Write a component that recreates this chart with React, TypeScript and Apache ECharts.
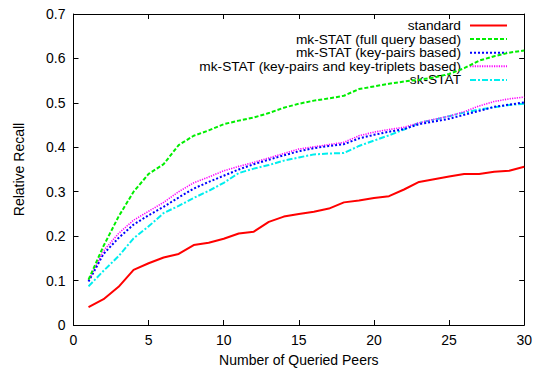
import React, { useEffect, useRef } from "react";
import * as echarts from "echarts";

const peers = [1,2,3,4,5,6,7,8,9,10,11,12,13,14,15,16,17,18,19,20,21,22,23,24,25,26,27,28,29,30];

const standard = [0.040,0.058,0.086,0.124,0.139,0.152,0.160,0.180,0.185,0.194,0.206,0.210,0.232,0.244,0.250,0.255,0.262,0.276,0.280,0.286,0.290,0.305,0.322,0.328,0.334,0.340,0.340,0.345,0.347,0.356];
const fullQuery = [0.102,0.178,0.244,0.300,0.340,0.362,0.405,0.426,0.438,0.452,0.460,0.467,0.477,0.489,0.498,0.505,0.510,0.516,0.531,0.537,0.543,0.548,0.552,0.557,0.565,0.578,0.595,0.605,0.613,0.618];
const keyPairs = [0.098,0.160,0.196,0.226,0.247,0.266,0.287,0.307,0.322,0.336,0.350,0.362,0.372,0.382,0.391,0.398,0.403,0.407,0.420,0.428,0.435,0.441,0.452,0.458,0.464,0.473,0.482,0.491,0.496,0.501];
const keyTriplets = [0.100,0.167,0.206,0.236,0.256,0.276,0.300,0.320,0.333,0.347,0.357,0.366,0.376,0.386,0.396,0.401,0.406,0.411,0.426,0.434,0.440,0.445,0.455,0.463,0.470,0.480,0.493,0.503,0.509,0.513];
const skStat = [0.087,0.122,0.155,0.195,0.222,0.252,0.268,0.286,0.302,0.320,0.342,0.352,0.360,0.370,0.377,0.384,0.386,0.387,0.403,0.415,0.427,0.440,0.455,0.462,0.470,0.478,0.485,0.490,0.495,0.498];

const seriesNames = [
  "standard",
  "mk-STAT (full query based)",
  "mk-STAT (key-pairs based)",
  "mk-STAT (key-pairs and key-triplets based)",
  "sk-STAT",
];
const seriesValues = [standard, fullQuery, keyPairs, keyTriplets, skStat];
const seriesColors = ["#ff0000", "#00ee00", "#0000ff", "#ff00ff", "#00eeee"];
const seriesDash: any[] = ["solid", [4, 2], [2, 2], [1.2, 1.2], [6, 2, 2, 2]];
const seriesWidth = [2, 2, 2, 1.6, 2];

const FONT = "'Liberation Sans', Arial, Helvetica, sans-serif";

export default function App() {
  const ref = useRef<HTMLDivElement>(null);
  useEffect(() => {
    if (!ref.current) return;
    const chart = echarts.init(ref.current, undefined, { renderer: "svg" });
    const axisCommon = {
      type: "value" as const,
      axisLine: { show: true, onZero: false, lineStyle: { color: "#000", width: 1 } },
      axisTick: { show: true, inside: true, length: 5, lineStyle: { color: "#000" } },
      splitLine: { show: false },
    };
    chart.setOption({
      animation: false,
      backgroundColor: "#fff",
      textStyle: { fontFamily: FONT },
      grid: { left: 73.5, right: 10.5, top: 14, bottom: 41.5, containLabel: false },
      xAxis: [
        {
          ...axisCommon,
          position: "bottom",
          min: 0,
          max: 30,
          interval: 5,
          name: "Number of Queried Peers",
          nameLocation: "middle",
          nameGap: 28,
          nameTextStyle: { fontSize: 14, color: "#000", fontFamily: FONT },
          axisLabel: { margin: 8, fontSize: 14, color: "#000", fontFamily: FONT },
        },
        {
          ...axisCommon,
          position: "top",
          min: 0,
          max: 30,
          interval: 5,
          axisLabel: { show: false },
        },
      ],
      yAxis: [
        {
          ...axisCommon,
          position: "left",
          min: 0,
          max: 0.7,
          interval: 0.1,
          name: "Relative Recall",
          nameLocation: "middle",
          nameGap: 48,
          nameTextStyle: { fontSize: 14, color: "#000", fontFamily: FONT },
          axisLabel: {
            margin: 8,
            fontSize: 14,
            color: "#000",
            fontFamily: FONT,
            formatter: (v: number) => (v === 0 ? "0" : v.toFixed(1)),
          },
        },
        {
          ...axisCommon,
          position: "right",
          min: 0,
          max: 0.7,
          interval: 0.1,
          axisLabel: { show: false },
        },
      ],
      legend: seriesNames.map((n, i) => ({
        data: [n],
        right: 27,
        top: 18.5 + i * 13.6,
        orient: "horizontal",
        align: "right",
        padding: 0,
        itemWidth: 37,
        itemHeight: 12,
        selectedMode: false,
        itemStyle: { opacity: 0 },
        textStyle: {
          fontSize: 13.7,
          lineHeight: 13,
          color: "#000",
          fontFamily: FONT,
          padding: [0, 4, 0, 0],
        },
      })),
      series: seriesNames.map((n, i) => ({
        name: n,
        type: "line",
        xAxisIndex: 0,
        yAxisIndex: 0,
        symbol: "none",
        showSymbol: false,
        z: 10 - i,
        data: peers.map((p, j) => [p, seriesValues[i][j]]),
        lineStyle: { color: seriesColors[i], width: seriesWidth[i], type: seriesDash[i] },
        itemStyle: { color: seriesColors[i] },
      })),
    });
    return () => chart.dispose();
  }, []);
  return (
    <div
      ref={ref}
      style={{ position: "fixed", left: 0, top: 0, width: 535, height: 372, background: "#fff" }}
    />
  );
}
